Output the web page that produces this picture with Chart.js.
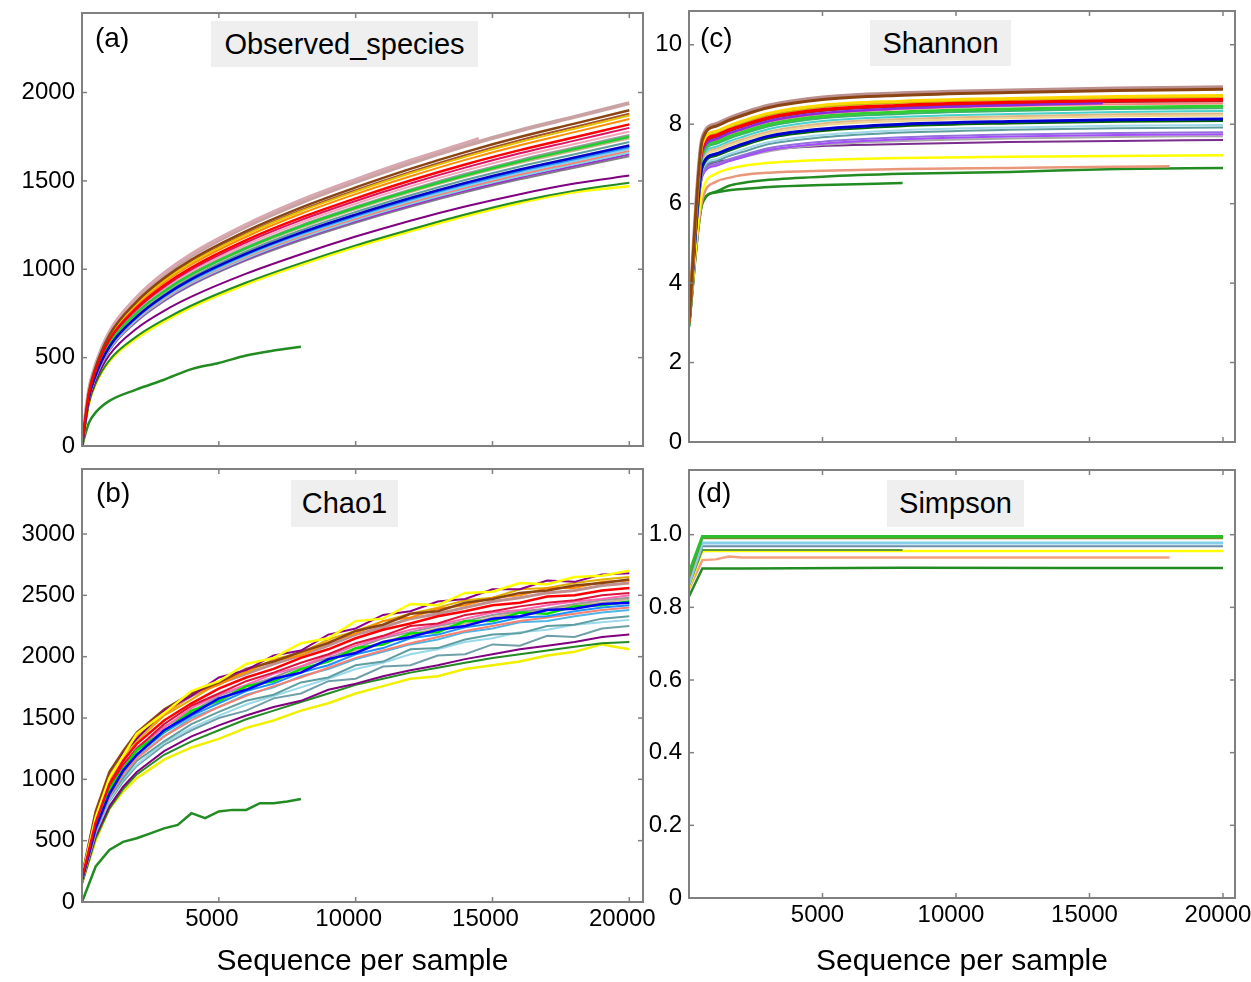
<!DOCTYPE html>
<html><head><meta charset="utf-8">
<script src="https://cdn.jsdelivr.net/npm/chart.js@4"></script>
<style>
body{margin:0;background:#fff;width:1251px;height:982px;position:relative;overflow:hidden;font-family:"Liberation Sans",Arial,sans-serif;}
canvas{position:absolute;}
.lbl{position:absolute;font-size:28px;color:#000;line-height:1;white-space:nowrap;}
.ttl{position:absolute;background:#efefef;font-size:29px;color:#000;display:flex;align-items:center;justify-content:center;white-space:nowrap;}
</style></head>
<body>
<canvas id="ca" width="660" height="460" style="left:0;top:0"></canvas>
<canvas id="cb" width="680" height="522" style="left:0;top:460px"></canvas>
<canvas id="cc" width="636" height="460" style="left:615px;top:0"></canvas>
<canvas id="cd" width="636" height="522" style="left:615px;top:460px"></canvas>
<div class="lbl" style="left:95px;top:24px">(a)</div>
<div class="lbl" style="left:96px;top:479px">(b)</div>
<div class="lbl" style="left:700px;top:24px">(c)</div>
<div class="lbl" style="left:697px;top:479px">(d)</div>
<div class="ttl" style="left:211px;top:21px;width:267px;height:46px">Observed_species</div>
<div class="ttl" style="left:291px;top:480px;width:107px;height:47px">Chao1</div>
<div class="ttl" style="left:870px;top:20px;width:141px;height:46px">Shannon</div>
<div class="ttl" style="left:887px;top:480px;width:137px;height:47px">Simpson</div>
<script>
// ---------- tick labels ----------
const xTicks = [0, 5000, 10000, 15000, 20000];
const obsTicks = [0, 500, 1000, 1500, 2000];
const chaoTicks = [0, 500, 1000, 1500, 2000, 2500, 3000];
const shanTicks = [0, 2, 4, 6, 8, 10];
const simpTicks = [0, 0.2, 0.4, 0.6, 0.8, 1.0];

// ---------- (a) Observed_species ----------
const obsX = [0, 250, 500, 1000, 2000, 3000, 4000, 6000, 8000, 10000, 12000, 14000, 16000, 18000, 20000];
const obsRosy    = [0, 310, 456, 640, 834, 970, 1077, 1242, 1377, 1494, 1601, 1698, 1785, 1862, 1940];
const obsBrown   = [0, 304, 447, 627, 817, 950, 1055, 1216, 1349, 1463, 1568, 1663, 1748, 1824, 1900];
const obsSienna  = [0, 301, 442, 620, 808, 940, 1043, 1203, 1335, 1448, 1551, 1645, 1730, 1805, 1880];
const obsGold    = [0, 299, 439, 617, 804, 935, 1038, 1197, 1328, 1440, 1543, 1636, 1720, 1795, 1870];
const obsOrange  = [0, 296, 435, 611, 796, 925, 1027, 1184, 1314, 1425, 1526, 1619, 1702, 1776, 1850];
const obsRed     = [0, 291, 428, 601, 783, 910, 1010, 1165, 1292, 1401, 1502, 1593, 1674, 1747, 1820];
const obsCrimson = [0, 288, 423, 594, 774, 900, 999, 1152, 1278, 1386, 1485, 1575, 1656, 1728, 1800];
const obsPink    = [0, 285, 418, 587, 765, 890, 988, 1139, 1264, 1371, 1469, 1558, 1638, 1709, 1780];
const obsGray    = [0, 282, 414, 581, 757, 880, 977, 1126, 1250, 1355, 1452, 1540, 1619, 1690, 1760];
const obsLime    = [0, 280, 411, 578, 753, 875, 971, 1120, 1243, 1348, 1444, 1531, 1610, 1680, 1750];
const obsTan     = [0, 278, 409, 574, 748, 870, 966, 1114, 1235, 1340, 1436, 1523, 1601, 1670, 1740];
const obsTeal    = [0, 275, 404, 568, 740, 860, 955, 1101, 1221, 1324, 1419, 1505, 1582, 1651, 1720];
const obsBlue    = [0, 272, 400, 561, 731, 850, 944, 1088, 1207, 1309, 1403, 1488, 1564, 1632, 1700];
const obsDodger  = [0, 270, 397, 558, 727, 845, 938, 1082, 1200, 1301, 1394, 1479, 1555, 1622, 1690];
const obsSky     = [0, 269, 395, 554, 722, 840, 932, 1075, 1193, 1294, 1386, 1470, 1546, 1613, 1680];
const obsSalmon  = [0, 267, 392, 551, 718, 835, 927, 1069, 1186, 1286, 1378, 1461, 1536, 1603, 1670];
const obsCyan    = [0, 266, 390, 548, 714, 830, 921, 1062, 1179, 1278, 1370, 1453, 1527, 1594, 1660];
const obsViolet  = [0, 264, 388, 545, 710, 825, 916, 1056, 1172, 1271, 1361, 1444, 1518, 1584, 1650];
const obsGray2   = [0, 262, 385, 541, 705, 820, 910, 1050, 1164, 1263, 1353, 1435, 1509, 1574, 1640];
const obsPurple  = [0, 250, 370, 515, 665, 765, 845, 975, 1085, 1185, 1275, 1355, 1425, 1485, 1530];
const obsGreen   = [0, 240, 355, 485, 620, 715, 795, 925, 1035, 1135, 1225, 1310, 1385, 1445, 1490];
const obsYellow  = [0, 235, 350, 478, 610, 705, 785, 915, 1025, 1125, 1215, 1300, 1375, 1435, 1470];
const obsPinkShortX = [0, 250, 500, 1000, 2000, 3000, 4000, 6000, 8000, 10000, 12000, 14000, 14500];
const obsPinkShort  = [0, 314, 460, 647, 843, 980, 1088, 1254, 1392, 1509, 1617, 1715, 1740];
const obsGreenShortX = [0, 250, 500, 1000, 2000, 3000, 4000, 5000, 6000, 7000, 8000];
const obsGreenShort  = [0, 130, 190, 255, 320, 375, 435, 470, 512, 540, 562];

// ---------- (b) Chao1 ----------
const chaoX = [0, 500, 1000, 1500, 2000, 3000, 4000, 5000, 6000, 7000, 8000, 9000, 10000, 11000, 12000, 13000, 14000, 15000, 16000, 17000, 18000, 19000, 20000];
const chaoYellow  = [200, 690, 1010, 1190, 1370, 1540, 1720, 1800, 1940, 1990, 2110, 2150, 2290, 2310, 2430, 2420, 2520, 2530, 2600, 2590, 2650, 2660, 2700];
const chaoPurple  = [190, 680, 1000, 1210, 1330, 1560, 1680, 1830, 1890, 2010, 2050, 2180, 2230, 2340, 2370, 2450, 2470, 2550, 2550, 2620, 2610, 2670, 2680];
const chaoBrown   = [210, 740, 1060, 1230, 1380, 1570, 1700, 1790, 1900, 1960, 2040, 2110, 2210, 2260, 2350, 2370, 2440, 2470, 2520, 2540, 2580, 2600, 2630];
const chaoOrange  = [190, 700, 1000, 1190, 1350, 1530, 1690, 1770, 1880, 1970, 2010, 2120, 2190, 2290, 2320, 2390, 2420, 2480, 2500, 2560, 2560, 2610, 2620];
const chaoRosy    = [200, 720, 1030, 1200, 1340, 1540, 1680, 1780, 1860, 1940, 2010, 2090, 2180, 2240, 2310, 2350, 2400, 2450, 2480, 2520, 2540, 2580, 2600];
const chaoGold    = [180, 660, 960, 1170, 1310, 1520, 1650, 1790, 1870, 1980, 2030, 2140, 2210, 2290, 2350, 2400, 2460, 2480, 2550, 2560, 2600, 2630, 2650];
const chaoRed     = [190, 650, 960, 1150, 1290, 1480, 1620, 1740, 1830, 1900, 1990, 2060, 2150, 2220, 2270, 2330, 2370, 2420, 2440, 2490, 2500, 2540, 2560];
const chaoCrimson = [185, 640, 930, 1120, 1250, 1450, 1600, 1700, 1800, 1870, 1950, 2020, 2110, 2170, 2250, 2270, 2340, 2370, 2410, 2440, 2460, 2500, 2520];
const chaoPink    = [180, 630, 920, 1100, 1260, 1420, 1580, 1690, 1770, 1860, 1920, 2010, 2090, 2160, 2220, 2260, 2310, 2360, 2380, 2420, 2450, 2470, 2500];
const chaoGray    = [180, 640, 900, 1110, 1230, 1430, 1550, 1680, 1760, 1830, 1920, 1990, 2070, 2150, 2200, 2250, 2290, 2340, 2370, 2390, 2430, 2460, 2480];
const chaoLime    = [180, 620, 920, 1080, 1240, 1390, 1560, 1640, 1760, 1800, 1900, 1960, 2070, 2100, 2190, 2200, 2290, 2290, 2360, 2350, 2410, 2420, 2450];
const chaoBlue    = [180, 600, 880, 1070, 1200, 1400, 1530, 1660, 1730, 1820, 1870, 1980, 2030, 2120, 2160, 2220, 2250, 2310, 2330, 2380, 2390, 2430, 2440];
const chaoDodger  = [175, 610, 890, 1060, 1200, 1380, 1520, 1620, 1720, 1780, 1870, 1930, 2020, 2070, 2150, 2180, 2240, 2270, 2320, 2330, 2370, 2400, 2420];
const chaoTan     = [170, 600, 880, 1060, 1210, 1390, 1540, 1640, 1740, 1810, 1890, 1970, 2050, 2120, 2180, 2230, 2270, 2320, 2360, 2380, 2420, 2440, 2470];
const chaoSalmon  = [170, 590, 860, 1040, 1170, 1350, 1480, 1590, 1680, 1760, 1830, 1910, 1990, 2050, 2110, 2160, 2210, 2250, 2290, 2320, 2350, 2380, 2400];
const chaoSky     = [175, 600, 870, 1040, 1180, 1350, 1500, 1590, 1690, 1750, 1840, 1900, 1980, 2040, 2100, 2140, 2200, 2230, 2280, 2290, 2330, 2360, 2380];
const chaoTeal    = [170, 580, 850, 1010, 1150, 1310, 1450, 1550, 1640, 1690, 1790, 1830, 1930, 1960, 2060, 2070, 2140, 2180, 2190, 2250, 2260, 2310, 2330];
const chaoCyan    = [165, 570, 830, 1000, 1120, 1300, 1420, 1520, 1610, 1680, 1750, 1820, 1900, 1950, 2020, 2060, 2120, 2150, 2200, 2220, 2260, 2280, 2300];
const chaoSlate   = [165, 560, 820, 980, 1110, 1280, 1400, 1500, 1560, 1660, 1700, 1800, 1820, 1920, 1930, 2010, 2020, 2100, 2090, 2170, 2160, 2230, 2250];
const chaoPurple2 = [160, 540, 780, 940, 1060, 1230, 1350, 1440, 1520, 1590, 1640, 1730, 1780, 1840, 1890, 1930, 1980, 2020, 2060, 2090, 2120, 2160, 2180];
const chaoGreen   = [150, 520, 760, 920, 1040, 1200, 1310, 1400, 1490, 1560, 1630, 1700, 1770, 1820, 1870, 1910, 1950, 1990, 2020, 2050, 2080, 2110, 2120];
const chaoYellow2 = [150, 500, 760, 900, 1010, 1160, 1260, 1330, 1420, 1480, 1560, 1620, 1700, 1760, 1820, 1840, 1900, 1930, 1960, 2010, 2040, 2100, 2060];
const chaoGreenShortX = [0, 500, 1000, 1500, 2000, 2500, 3000, 3500, 4000, 4500, 5000, 5500, 6000, 6500, 7000, 7500, 8000];
const chaoGreenShort  = [0, 290, 425, 490, 520, 560, 600, 628, 724, 683, 738, 751, 751, 806, 806, 820, 840];

// ---------- (c) Shannon ----------
const shanX = [0, 500, 1000, 1500, 2000, 3000, 5000, 8000, 12000, 16000, 20000];
const shanRosy    = [3.0, 7.65, 8.0, 8.15, 8.27, 8.47, 8.67, 8.78, 8.85, 8.9, 8.93];
const shanBrown   = [3.0, 7.6, 7.95, 8.1, 8.22, 8.42, 8.62, 8.73, 8.8, 8.85, 8.88];
const shanGold    = [3.0, 7.5, 7.82, 7.96, 8.08, 8.28, 8.48, 8.58, 8.65, 8.7, 8.72];
const shanOlive   = [3.0, 7.45, 7.78, 7.92, 8.03, 8.23, 8.43, 8.54, 8.61, 8.66, 8.68];
const shanRed     = [3.0, 7.4, 7.72, 7.86, 7.97, 8.17, 8.37, 8.48, 8.55, 8.6, 8.62];
const shanDkRed   = [3.0, 7.35, 7.67, 7.82, 7.93, 8.13, 8.33, 8.44, 8.51, 8.56, 8.58];
const shanPurpleX = [0, 500, 1000, 1500, 2000, 3000, 5000, 8000, 12000, 15500];
const shanPurple  = [3.0, 7.3, 7.62, 7.77, 7.88, 8.08, 8.28, 8.4, 8.48, 8.53];
const shanPink    = [3.0, 7.28, 7.6, 7.75, 7.86, 8.06, 8.26, 8.38, 8.46, 8.5, 8.52];
const shanLime    = [3.0, 7.25, 7.55, 7.69, 7.8, 8.0, 8.2, 8.31, 8.38, 8.43, 8.45];
const shanSea     = [3.0, 7.2, 7.5, 7.64, 7.75, 7.95, 8.15, 8.26, 8.33, 8.38, 8.40];
const shanTurq    = [3.0, 7.15, 7.43, 7.57, 7.68, 7.88, 8.08, 8.19, 8.26, 8.31, 8.33];
const shanTan     = [3.0, 7.1, 7.38, 7.51, 7.62, 7.82, 8.02, 8.13, 8.2, 8.25, 8.27];
const shanKhaki   = [3.0, 7.05, 7.33, 7.46, 7.57, 7.77, 7.97, 8.08, 8.15, 8.2, 8.22];
const shanBlue    = [3.0, 6.95, 7.25, 7.38, 7.5, 7.7, 7.88, 8.0, 8.07, 8.11, 8.13];
const shanDkGreen = [3.0, 6.9, 7.2, 7.33, 7.45, 7.65, 7.83, 7.95, 8.02, 8.06, 8.08];
const shanLtBlue  = [3.0, 6.85, 7.12, 7.25, 7.36, 7.55, 7.73, 7.85, 7.92, 7.96, 7.98];
const shanCadet   = [3.0, 6.8, 7.07, 7.2, 7.3, 7.5, 7.67, 7.79, 7.86, 7.9, 7.92];
const shanMedPur  = [3.0, 6.75, 7.0, 7.12, 7.22, 7.4, 7.56, 7.67, 7.74, 7.78, 7.8];
const shanViolet  = [3.0, 6.7, 6.95, 7.07, 7.17, 7.35, 7.51, 7.62, 7.69, 7.73, 7.75];
const shanGray    = [3.0, 6.72, 6.98, 7.08, 7.16, 7.32, 7.48, 7.58, 7.64, 7.68, 7.7];
const shanDkPur   = [3.0, 6.7, 7.05, 7.1, 7.2, 7.35, 7.45, 7.5, 7.55, 7.58, 7.6];
const shanYellow  = [3.0, 6.3, 6.75, 6.88, 6.95, 7.03, 7.1, 7.15, 7.18, 7.2, 7.22];
const shanSalmonX = [0, 500, 1000, 1500, 2000, 3000, 5000, 8000, 12000, 16000, 18000];
const shanSalmon  = [3.0, 6.1, 6.55, 6.65, 6.72, 6.78, 6.83, 6.87, 6.9, 6.93, 6.94];
const shanGreen   = [2.9, 6.0, 6.3, 6.45, 6.52, 6.6, 6.68, 6.75, 6.8, 6.87, 6.9];
const shanGreenShortX = [0, 500, 1000, 1500, 2000, 3000, 5000, 8000];
const shanGreenShort  = [2.9, 6.02, 6.28, 6.34, 6.37, 6.42, 6.47, 6.52];

// ---------- (d) Simpson ----------
const simpX = [0, 500, 2000, 8000, 14000, 20000];
const simpGreen   = [0.895, 0.995, 0.995, 0.995, 0.995, 0.995];
const simpOlive   = [0.88, 0.99, 0.99, 0.99, 0.99, 0.99];
const simpSky     = [0.865, 0.977, 0.977, 0.977, 0.977, 0.977];
const simpSteel   = [0.86, 0.968, 0.968, 0.968, 0.968, 0.968];
const simpGreenShortX = [0, 500, 2000, 8000];
const simpGreenShort  = [0.86, 0.958, 0.958, 0.958];
const simpYellow  = [0.855, 0.955, 0.955, 0.955, 0.955, 0.955];
const simpSalmonX = [0, 500, 1000, 1500, 2000, 8000, 14000, 18000];
const simpSalmon  = [0.85, 0.93, 0.932, 0.94, 0.937, 0.937, 0.937, 0.937];
const simpDkGreen = [0.83, 0.907, 0.907, 0.909, 0.908, 0.908];

// ---------- series tables (colour / width only) ----------
const obsSeries = [
  {x: obsX, y: obsRed, c: '#ff0000', w: 2.5}, {x: obsX, y: obsBlue, c: '#0000cd', w: 2.5},
  {x: obsX, y: obsLime, c: '#22cc33', w: 2.5}, {x: obsX, y: obsBrown, c: '#8b4513', w: 2.5},
  {x: obsX, y: obsGold, c: '#e6c000'}, {x: obsX, y: obsSienna, c: '#a0522d'},
  {x: obsX, y: obsOrange, c: '#ff8c00'}, {x: obsX, y: obsCrimson, c: '#e0115f'},
  {x: obsX, y: obsPink, c: '#f4a6b8'}, {x: obsX, y: obsGray, c: '#9a9a9a'},
  {x: obsX, y: obsTan, c: '#d2b48c'}, {x: obsX, y: obsTeal, c: '#5f9ea0'},
  {x: obsX, y: obsDodger, c: '#1e90ff'}, {x: obsX, y: obsSky, c: '#87ceeb'},
  {x: obsX, y: obsSalmon, c: '#fa8072'}, {x: obsX, y: obsCyan, c: '#7fd6e6'},
  {x: obsX, y: obsViolet, c: '#9932cc'}, {x: obsX, y: obsGray2, c: '#808080'},
  {x: obsX, y: obsPurple, c: '#800080'}, {x: obsX, y: obsGreen, c: '#228b22'},
  {x: obsX, y: obsYellow, c: '#ffff00', w: 2.5}, {x: obsGreenShortX, y: obsGreenShort, c: '#228b22', w: 2.5},
  {x: obsPinkShortX, y: obsPinkShort, c: '#d8a8b0', w: 3}, {x: obsX, y: obsRosy, c: '#c9a3a3', w: 4}
];
const chaoSeries = [
  {x: chaoX, y: chaoRed, c: '#ff0000', w: 2.5}, {x: chaoX, y: chaoBlue, c: '#0000ff', w: 2.5},
  {x: chaoX, y: chaoLime, c: '#00e000', w: 2.5}, {x: chaoX, y: chaoYellow, c: '#ffff00', w: 2.5},
  {x: chaoX, y: chaoPurple, c: '#8b008b'}, {x: chaoX, y: chaoBrown, c: '#8b4513', w: 2.5},
  {x: chaoX, y: chaoOrange, c: '#ff8c00'}, {x: chaoX, y: chaoGold, c: '#e0b000'},
  {x: chaoX, y: chaoCrimson, c: '#dc143c'}, {x: chaoX, y: chaoPink, c: '#ff69b4'},
  {x: chaoX, y: chaoGray, c: '#999999'}, {x: chaoX, y: chaoDodger, c: '#1e90ff'},
  {x: chaoX, y: chaoTan, c: '#d2b48c'}, {x: chaoX, y: chaoSalmon, c: '#fa8072'},
  {x: chaoX, y: chaoSky, c: '#4fb4e6'}, {x: chaoX, y: chaoTeal, c: '#5f9ea0'},
  {x: chaoX, y: chaoCyan, c: '#9ad9ea'}, {x: chaoX, y: chaoSlate, c: '#6f9fa8'},
  {x: chaoX, y: chaoPurple2, c: '#800080'}, {x: chaoX, y: chaoGreen, c: '#228b22'},
  {x: chaoX, y: chaoYellow2, c: '#f0f000', w: 2.5}, {x: chaoGreenShortX, y: chaoGreenShort, c: '#228b22', w: 2.5},
  {x: chaoX, y: chaoRosy, c: '#c09090', w: 3}
];
const shanSeries = [
  {x: shanX, y: shanBrown, c: '#8b4513', w: 3}, {x: shanX, y: shanGold, c: '#ffd700', w: 3},
  {x: shanX, y: shanRed, c: '#ff0000', w: 3}, {x: shanPurpleX, y: shanPurple, c: '#8a2be2', w: 2.5},
  {x: shanX, y: shanLime, c: '#32cd32', w: 3}, {x: shanX, y: shanBlue, c: '#0000cd', w: 3},
  {x: shanX, y: shanDkGreen, c: '#006400'}, {x: shanX, y: shanOlive, c: '#c8b400'},
  {x: shanX, y: shanDkRed, c: '#b22222'}, {x: shanX, y: shanPink, c: '#ff8080'},
  {x: shanX, y: shanSea, c: '#3cb371'}, {x: shanX, y: shanTurq, c: '#48d1cc'},
  {x: shanX, y: shanTan, c: '#deb887'}, {x: shanX, y: shanKhaki, c: '#f0d58c'},
  {x: shanX, y: shanLtBlue, c: '#9fd8e8'}, {x: shanX, y: shanCadet, c: '#5f9ea0'},
  {x: shanX, y: shanMedPur, c: '#9370db'}, {x: shanX, y: shanViolet, c: '#a64dff'},
  {x: shanX, y: shanGray, c: '#a9a9a9'}, {x: shanX, y: shanDkPur, c: '#7b2d8e'},
  {x: shanX, y: shanYellow, c: '#ffff00', w: 2.5}, {x: shanSalmonX, y: shanSalmon, c: '#e9967a', w: 2.5},
  {x: shanX, y: shanGreen, c: '#228b22', w: 2.5}, {x: shanGreenShortX, y: shanGreenShort, c: '#228b22', w: 2.5},
  {x: shanX, y: shanRosy, c: '#bc8f8f', w: 4}
];
const simpSeries = [
  {x: simpX, y: simpGreen, c: '#2dbd2d', w: 3}, {x: simpX, y: simpOlive, c: '#7a8a2a', w: 2},
  {x: simpX, y: simpSky, c: '#87ceeb', w: 3}, {x: simpX, y: simpSteel, c: '#6c8fa8', w: 2},
  {x: simpGreenShortX, y: simpGreenShort, c: '#5a9a3a', w: 2}, {x: simpX, y: simpYellow, c: '#ffff00', w: 2.5},
  {x: simpSalmonX, y: simpSalmon, c: '#f4a080', w: 2.5}, {x: simpX, y: simpDkGreen, c: '#228b22', w: 2.5}
];

// ---------- drawing ----------
const FAM = '"Liberation Sans", Arial, sans-serif';
const framePlugin = {
  id: 'frame',
  afterDatasetsDraw(chart) {
    const {ctx, chartArea: a, scales} = chart;
    ctx.save();
    ctx.strokeStyle = '#808080';
    ctx.lineWidth = 1.5;
    const seg = (x1, y1, x2, y2) => { ctx.beginPath(); ctx.moveTo(x1, y1); ctx.lineTo(x2, y2); ctx.stroke(); };
    scales.x.ticks.forEach(t => {
      const p = scales.x.getPixelForValue(t.value);
      seg(p, a.bottom, p, a.bottom - 5); seg(p, a.top, p, a.top + 5);
    });
    scales.y.ticks.forEach(t => {
      const p = scales.y.getPixelForValue(t.value);
      seg(a.left, p, a.left + 5, p); seg(a.right, p, a.right - 5, p);
    });
    ctx.lineWidth = 2;
    ctx.strokeRect(a.left, a.top, a.right - a.left, a.bottom - a.top);
    ctx.restore();
  }
};

function makeChart(id, cfg) {
  const datasets = cfg.series.map(s => ({
    data: s.x.map((x, i) => ({x: x, y: s.y[i]})),
    borderColor: s.c, borderWidth: s.w || 2, pointRadius: 0, fill: false,
    cubicInterpolationMode: cfg.smooth ? 'monotone' : 'default', tension: 0
  }));
  new Chart(document.getElementById(id), {
    type: 'line',
    data: {datasets},
    options: {
      responsive: false, animation: false, devicePixelRatio: 1,
      layout: {padding: cfg.pad},
      plugins: {legend: {display: false}, tooltip: {enabled: false}},
      scales: {
        x: {
          type: 'linear', min: 0, max: cfg.xMax,
          afterBuildTicks: s => { s.ticks = xTicks.map(v => ({value: v})); },
          afterFit: s => { s.height = cfg.xH; s.paddingLeft = 0; s.paddingRight = 0; },
          grid: {display: false, drawTicks: false}, border: {display: false},
          ticks: {display: cfg.xLabels, font: {family: FAM, size: 24}, color: '#000', padding: 3,
                  labelOffset: cfg.lblOff, maxRotation: 0, autoSkip: false,
                  callback: v => v === 0 ? '' : String(v)},
          title: {display: cfg.xLabels, text: 'Sequence per sample', font: {family: FAM, size: 30},
                  color: '#000', padding: {top: 0, bottom: 2}}
        },
        y: {
          min: 0, max: cfg.yMax,
          afterBuildTicks: s => { s.ticks = cfg.yTicks.map(v => ({value: v})); },
          afterFit: s => { s.width = cfg.yW; s.paddingTop = 0; s.paddingBottom = 0; },
          grid: {display: false, drawTicks: false}, border: {display: false},
          ticks: {font: {family: FAM, size: 24}, color: '#000', padding: 7, callback: cfg.yFmt}
        }
      }
    },
    plugins: [framePlugin]
  });
}

makeChart('ca', {series: obsSeries, smooth: true, pad: {left: 0, top: 13, right: 17, bottom: 0},
  xMax: 20500, yMax: 2450, yTicks: obsTicks, yW: 82, xH: 14, xLabels: false, lblOff: 0, yFmt: v => String(v)});
makeChart('cb', {series: chaoSeries, smooth: false, pad: {left: 0, top: 9, right: 37, bottom: 0},
  xMax: 20500, yMax: 3530, yTicks: chaoTicks, yW: 82, xH: 80, xLabels: true, lblOff: -7, yFmt: v => String(v)});
makeChart('cc', {series: shanSeries, smooth: true, pad: {left: 0, top: 11, right: 16, bottom: 0},
  xMax: 20450, yMax: 10.85, yTicks: shanTicks, yW: 74, xH: 18, xLabels: false, lblOff: 0, yFmt: v => String(v)});
makeChart('cd', {series: simpSeries, smooth: false, pad: {left: 0, top: 10, right: 16, bottom: 0},
  xMax: 20450, yMax: 1.178, yTicks: simpTicks, yW: 74, xH: 84, xLabels: true, lblOff: -5,
  yFmt: v => v === 0 ? '0' : v.toFixed(1)});
</script>
</body></html>
